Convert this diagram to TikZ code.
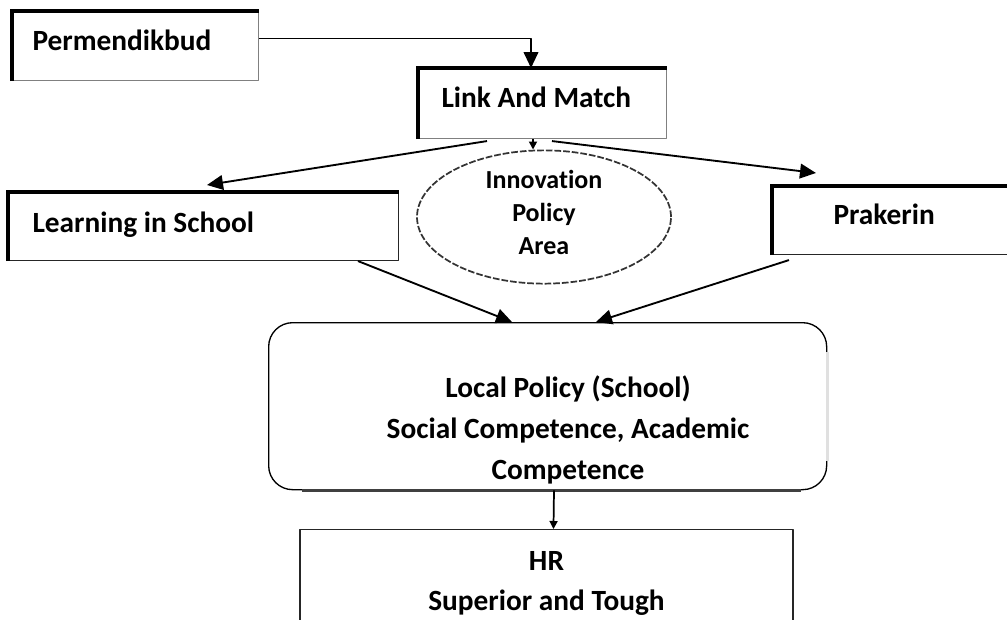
\documentclass[tikz,border=0pt]{standalone}
\usepackage{fontspec}
\setmainfont{Carlito}[Ligatures=NoCommon]
\usetikzlibrary{arrows.meta,shapes.geometric,calc}

% extra depth below a label, to lift it inside its box
\newcommand{\lift}[1]{\rule[-#1]{0pt}{#1}}

\tikzset{
  card/.style={draw=black!50,line width=0.8pt,anchor=north west,align=flush left,
               font=\fontsize{22}{26}\selectfont\bfseries},
  heavy/.style={line width=2.6pt,line join=miter},
  conn/.style={-{Triangle[length=12pt,width=11pt]},line width=1.4pt},
  stub/.style={-{Triangle[length=6pt,width=6pt]},line width=1.3pt},
}

\begin{document}
\begin{tikzpicture}[x=0.75pt,y=-0.75pt,line join=round]
  \useasboundingbox (0,0) rectangle (1007,619);
  \clip (0,0) rectangle (1007,619);

  % ---- top row: regulation and link-and-match -------------------------
  \node[card,minimum width=184.5pt,minimum height=51.75pt,
        inner xsep=15pt,text width=154.5pt] (perm) at (12,11)
        {Permendikbud\lift{8pt}};
  \node[card,minimum width=186pt,minimum height=52.5pt,
        inner xsep=17.25pt,text width=151.5pt] (link) at (418,68)
        {Link And Match\lift{10pt}};

  % ---- second row ------------------------------------------------------
  \node[card,draw=black!85,minimum width=292.5pt,minimum height=51pt,
        inner xsep=18pt,text width=256.5pt] (learn) at (8,192)
        {Learning in School\lift{6pt}};
  \node[card,draw=black!85,minimum width=195pt,minimum height=51pt,
        inner xsep=45.75pt,text width=103.5pt] (prak) at (772,186)
        {Prakerin\lift{10pt}};

  % thick left/top edges of the four cards
  \foreach \n in {perm,link,learn,prak}
    \draw[heavy] (\n.south west) -- (\n.north west) -- (\n.north east);

  % ---- policy area (dashed ellipse) -------------------------------------
  \node[ellipse,draw=black!80,dash pattern=on 5pt off 1.5pt,line width=1.3pt,
        minimum width=190.5pt,minimum height=97.5pt,inner sep=0pt,align=center,
        font=\fontsize{19.5}{24.75}\selectfont\bfseries]
        (area) at (544,217) {Innovation\\Policy\\Area\lift{7.5pt}};

  % ---- local policy box ------------------------------------------------
  \node[draw,rounded corners=18pt,line width=1pt,anchor=north west,
        minimum width=418.5pt,minimum height=125.25pt] (local) at (268,322) {};
  \draw[black!12,line width=2.4pt]
        ($(local.north east)+(0,30)$) -- ($(local.south east)+(0,-29)$);
  \draw[black!75,line width=1.8pt]
        ($(local.south west)+(34,0)$) -- ($(local.south east)+(-26,0)$);
  \node[align=center,font=\fontsize{22}{30.75}\selectfont\bfseries]
        (localtxt) at (568,430)
        {Local Policy (School)\\Social Competence, Academic\\Competence};

  % ---- human resources --------------------------------------------------
  \node[draw=black!85,line width=0.8pt,anchor=north,minimum width=369.75pt,
        align=center,inner ysep=16.5pt,font=\fontsize{22}{30}\selectfont\bfseries]
        (hr) at (546.5,529) {HR\\Superior and Tough};

  % ---- connectors -------------------------------------------------------
  \draw[conn] ($(perm.east)+(0,-7.5)$) -| ($(link.north west)+(113,0)$);
  \draw[stub] ($(link.south west)+(115,0)$) -- ($(area.north)+(-11,0)$);
  \draw[conn] ($(link.south west)+(69,2)$) -- ($(learn.north west)+(199,-7)$);
  \draw[conn] ($(link.south west)+(134,2)$) -- ($(prak.north west)+(44,-13)$);
  \draw[conn] ($(learn.south west)+(350,0)$) -- ($(local.north west)+(244,0)$);
  \draw[conn] ($(prak.south west)+(17,5)$) -- ($(local.north west)+(328,0)$);
  \draw[stub] ($(local.south west)+(286,0)$) -- ($(hr.north west)+(254,0)$);

\end{tikzpicture}
\end{document}
